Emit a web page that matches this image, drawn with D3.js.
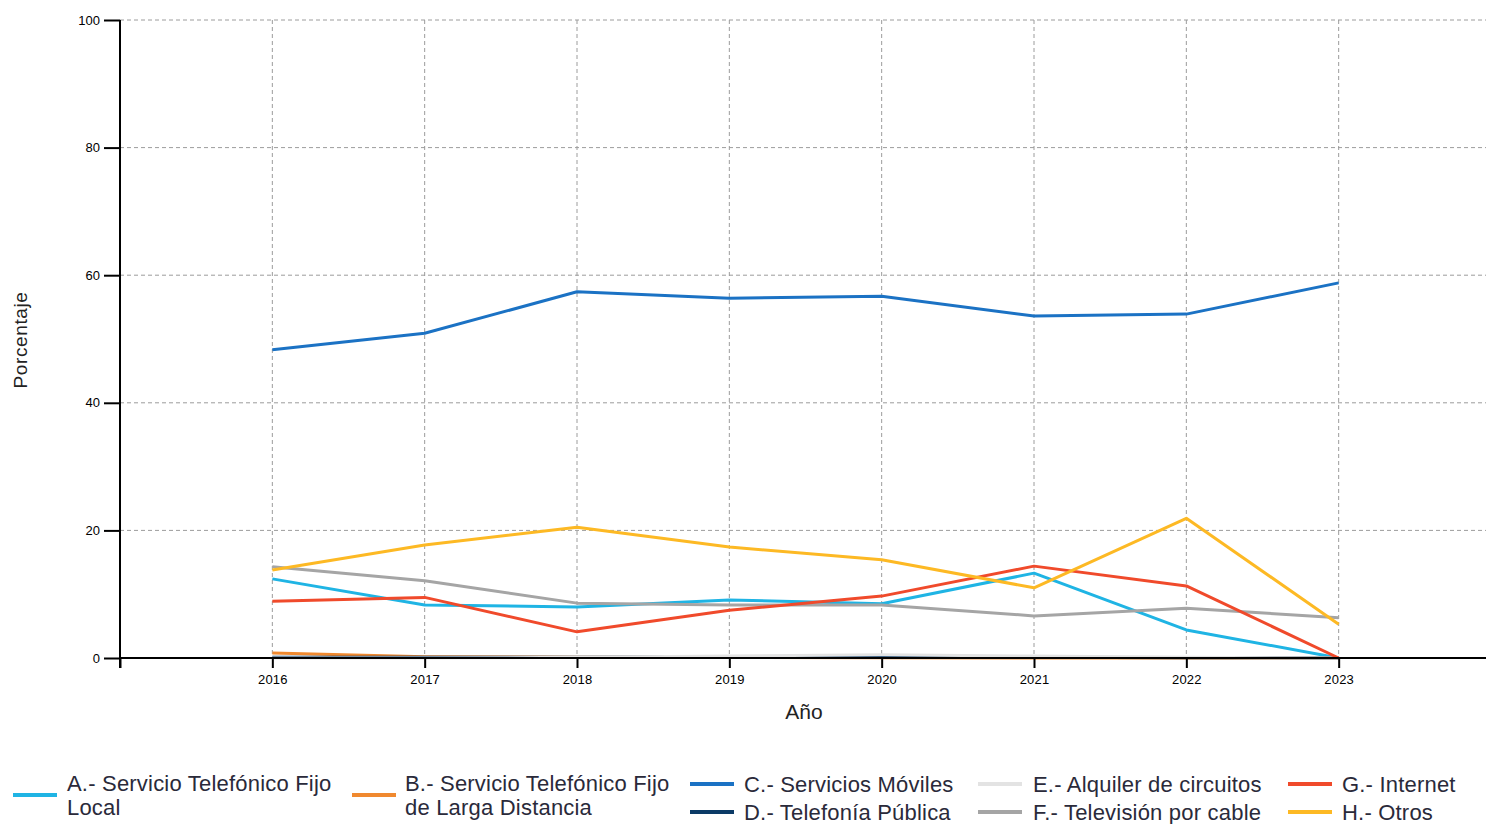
<!DOCTYPE html>
<html>
<head>
<meta charset="utf-8">
<script src="https://cdn.jsdelivr.net/npm/d3@7"></script>
<style>
  body { margin: 0; background: #fff; }
  .tick text { font-family: "Liberation Sans", Arial, sans-serif; }
</style>
</head>
<body>
<div class="canva"></div>
<script>
// data
const years = [2016, 2017, 2018, 2019, 2020, 2021, 2022, 2023];
const fijoLocal = [12.4, 8.3, 8.0, 9.1, 8.5, 13.3, 4.4, 0];
const fijoLarga = [0.8, 0.2, 0.1, 0.1, 0.05, 0, 0, 0];
const moviles = [48.3, 50.9, 57.4, 56.4, 56.7, 53.6, 53.9, 58.8];
const publica = [0.1, 0.1, 0.1, 0.2, 0.1, 0.1, 0.05, 0];
const alquiler = [0, 0, 0.1, 0.3, 0.5, 0.3, 0.1, 0];
const cable = [14.3, 12.1, 8.6, 8.3, 8.3, 6.6, 7.8, 6.3];
const internet = [8.9, 9.5, 4.1, 7.5, 9.7, 14.4, 11.3, 0];
const otros = [13.8, 17.7, 20.5, 17.4, 15.4, 11.0, 21.9, 5.3];
const yTicks = [0, 20, 40, 60, 80, 100];

const series = [
  { name: ["A.- Servicio Telefónico Fijo", "Local"], values: fijoLocal, color: "#1fb4e4" },
  { name: ["B.- Servicio Telefónico Fijo", "de Larga Distancia"], values: fijoLarga, color: "#f0892f" },
  { name: ["C.- Servicios Móviles"], values: moviles, color: "#1b72c4" },
  { name: ["D.- Telefonía Pública"], values: publica, color: "#0b3a66" },
  { name: ["E.- Alquiler de circuitos"], values: alquiler, color: "#e3e3e3" },
  { name: ["F.- Televisión por cable"], values: cable, color: "#a5a5a5" },
  { name: ["G.- Internet"], values: internet, color: "#f04a2b" },
  { name: ["H.- Otros"], values: otros, color: "#fdb924" }
];

const W = 1486, H = 824;
const svg = d3.select(".canva").append("svg")
  .attr("width", W)
  .attr("height", H);

const x = d3.scaleLinear().domain([2015, 2024]).range([120, 1491]);
const y = d3.scaleLinear().domain([0, 100]).range([658, 20]);

// grid
svg.append("g")
  .selectAll("line.hg")
  .data(yTicks.filter(d => d > 0))
  .enter().append("line")
  .attr("x1", 120).attr("x2", W)
  .attr("y1", d => y(d)).attr("y2", d => y(d))
  .style("stroke", "#9c9c9c")
  .style("stroke-dasharray", "4,3");

svg.append("g")
  .selectAll("line.vg")
  .data(years)
  .enter().append("line")
  .attr("x1", d => x(d)).attr("x2", d => x(d))
  .attr("y1", 20).attr("y2", 658)
  .style("stroke", "#9c9c9c")
  .style("stroke-dasharray", "4,3");

// lines
const line = d3.line()
  .x((d, i) => x(years[i]))
  .y(d => y(d));

svg.append("g")
  .selectAll("path")
  .data(series)
  .enter().append("path")
  .attr("d", d => line(d.values))
  .style("fill", "none")
  .style("stroke", d => d.color)
  .style("stroke-width", 3)
  .style("stroke-linejoin", "round");

// axes
const xAxis = svg.append("g")
  .attr("transform", "translate(0,658)")
  .call(d3.axisBottom(x).tickValues([2015].concat(years)).tickFormat(d => d === 2015 ? "" : d).tickSize(10).tickSizeOuter(0));
xAxis.select(".domain").attr("d", "M120,0H" + W).style("stroke", "#000").style("stroke-width", 2);
xAxis.selectAll(".tick line").style("stroke", "#000").style("stroke-width", 2);
xAxis.selectAll(".tick text").attr("y", 17).style("font-size", "13px").style("letter-spacing", "0.2px").style("fill", "#000");

const yAxis = svg.append("g")
  .attr("transform", "translate(120,0)")
  .call(d3.axisLeft(y).tickValues(yTicks).tickSize(16).tickSizeOuter(0));
yAxis.select(".domain").attr("d", "M0,20V668").style("stroke", "#000").style("stroke-width", 2);
yAxis.selectAll(".tick line").style("stroke", "#000").style("stroke-width", 2);
yAxis.selectAll(".tick text").attr("x", -20).style("font-size", "13px").style("fill", "#000");

// axis titles
svg.append("text")
  .attr("x", 804).attr("y", 719)
  .attr("text-anchor", "middle")
  .style("font-family", "Liberation Sans, Arial, sans-serif")
  .style("font-size", "21px")
  .style("fill", "#222")
  .text("Año");

svg.append("text")
  .attr("transform", "translate(27,340) rotate(-90)")
  .attr("text-anchor", "middle")
  .style("font-family", "Liberation Sans, Arial, sans-serif")
  .style("font-size", "19px")
  .style("letter-spacing", "0.6px")
  .style("fill", "#222")
  .text("Porcentaje");

// legend
const legendPos = [
  { lx: 13, ly: 795, tx: 67, ty: 791 },
  { lx: 352, ly: 795, tx: 405, ty: 791 },
  { lx: 690, ly: 784, tx: 744, ty: 792 },
  { lx: 690, ly: 812, tx: 744, ty: 820 },
  { lx: 978, ly: 784, tx: 1033, ty: 792 },
  { lx: 978, ly: 812, tx: 1033, ty: 820 },
  { lx: 1288, ly: 784, tx: 1342, ty: 792 },
  { lx: 1288, ly: 812, tx: 1342, ty: 820 }
];

const legend = svg.append("g")
  .selectAll("g")
  .data(series)
  .enter().append("g");

legend.append("line")
  .attr("x1", (d, i) => legendPos[i].lx)
  .attr("x2", (d, i) => legendPos[i].lx + 44)
  .attr("y1", (d, i) => legendPos[i].ly)
  .attr("y2", (d, i) => legendPos[i].ly)
  .style("stroke", d => d.color)
  .style("stroke-width", 4);

legend.append("text")
  .attr("x", (d, i) => legendPos[i].tx)
  .attr("y", (d, i) => legendPos[i].ty)
  .style("font-family", "Liberation Sans, Arial, sans-serif")
  .style("font-size", "22px")
  .style("fill", "#2a2a3a")
  .style("letter-spacing", "0.2px")
  .selectAll("tspan")
  .data(d => d.name)
  .enter().append("tspan")
  .attr("x", function () { return this.parentNode.getAttribute("x"); })
  .attr("dy", (d, i) => i === 0 ? 0 : 24)
  .text(d => d);
</script>
</body>
</html>
